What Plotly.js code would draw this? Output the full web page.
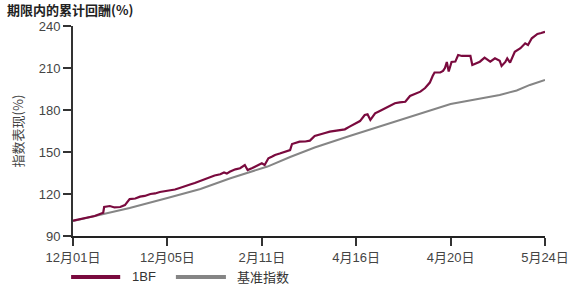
<!DOCTYPE html>
<html>
<head>
<meta charset="utf-8">
<script src="https://cdn.plot.ly/plotly-3.0.1.min.js"></script>
<style>html,body{margin:0;padding:0;background:#fff}#chart{width:584px;height:288px}</style>
</head>
<body>
<div id="chart"></div>
<script>
// x positions are trading-day indices
const tickVals = [0, 100, 200, 300, 400, 500];
const tickLabels = ["12月01日", "12月05日", "2月11日", "4月16日", "4月20日", "5月24日"];

const fundName = "1BF";
const fundX = [0,7,16,23,32,33,39,44,50,55,60,66,71,76,82,87,92,97,103,108,113,119,124,129,135,140,145,150,156,160,163,166,172,177,182,185,190,193,198,200,203,207,211,214,219,225,230,232,236,240,246,251,256,262,267,272,278,283,288,293,299,304,309,312,315,320,325,331,336,341,346,352,357,362,368,373,378,381,383,389,392,394,396,398,401,405,408,412,415,421,423,427,431,436,442,447,452,454,458,460,463,468,474,479,482,486,492,496,500];
const fundY = [100.9,102.1,103.2,104.3,106.6,110.7,111.4,110.4,110.7,112.1,116.4,116.8,118.1,118.6,120.0,120.4,121.4,121.8,122.4,123.2,124.3,125.4,126.8,127.9,129.5,131.1,132.4,133.2,134.1,135.4,134.6,135.9,137.6,138.4,140.7,137.1,138.6,139.5,141.1,141.9,140.7,145.5,146.8,147.9,148.9,150.2,151.4,155.7,156.4,157.4,157.5,158.1,161.4,162.9,163.6,164.5,165.0,165.7,166.2,168.1,170.0,172.1,176.4,176.9,172.9,177.6,179.3,181.2,182.9,184.8,185.4,185.9,190.0,191.4,193.1,195.7,199.6,204.3,206.8,206.8,207.9,210.0,214.3,207.5,214.3,214.6,219.3,218.6,218.6,218.6,212.1,213.6,214.5,217.4,214.5,216.9,215.2,211.4,214.3,216.9,213.8,221.6,224.1,227.6,226.4,231.2,234.3,235.0,235.9];

const benchName = "基准指数";
const benchX = [0,29,60,100,135,166,206,230,256,293,346,400,426,452,470,484,500];
const benchY = [100.7,105.4,110.0,117.1,123.6,131.1,139.6,146.4,153.2,161.4,172.9,184.3,187.5,190.7,193.9,197.9,201.4];

const fundColor = "#7a0a3e";
const benchColor = "#858585";
const fontFam = "Liberation Sans, Arial, Noto Sans CJK SC, sans-serif";

const traces = [
  {x: benchX, y: benchY, type: "scatter", mode: "lines", name: benchName,
   line: {color: benchColor, width: 2}, hoverinfo: "skip"},
  {x: fundX, y: fundY, type: "scatter", mode: "lines", name: fundName,
   line: {color: fundColor, width: 2.2}, hoverinfo: "skip"}
];

const layout = {
  width: 584, height: 288,
  margin: {l: 73, r: 39, t: 26, b: 52},
  paper_bgcolor: "#fff", plot_bgcolor: "#fff",
  showlegend: false,
  font: {family: fontFam, size: 13, color: "#444"},
  title: {text: "<b>期限内的累计回酬(%)</b>", x: 0.012, xanchor: "left", xref: "container",
          y: 0.962, yanchor: "middle", yref: "container",
          font: {family: "Noto Sans CJK SC, sans-serif", size: 13, color: "#222"}},
  xaxis: {range: [0, 500], tickvals: tickVals, ticktext: tickLabels,
          showgrid: false, zeroline: false, showline: true, linecolor: "#222", linewidth: 2,
          ticks: "outside", ticklen: 8, tickwidth: 2, tickcolor: "#333",
          tickfont: {size: 13, color: "#444"}, fixedrange: true},
  yaxis: {range: [90, 240], tickvals: [90, 120, 150, 180, 210, 240],
          showgrid: false, zeroline: false, showline: true, linecolor: "#333", linewidth: 2,
          ticks: "outside", ticklen: 8, tickwidth: 2, tickcolor: "#333",
          tickfont: {size: 13, color: "#444"},
          title: {text: "指数表现(%)", standoff: 12, font: {family: "Noto Sans CJK SC, sans-serif", size: 13, color: "#444"}},
          fixedrange: true},
  shapes: [
    {type: "line", xref: "paper", yref: "paper", x0: -0.004, x1: 0.100, y0: -0.195, y1: -0.195,
     line: {color: fundColor, width: 4}},
    {type: "line", xref: "paper", yref: "paper", x0: 0.218, x1: 0.324, y0: -0.195, y1: -0.195,
     line: {color: benchColor, width: 4}}
  ],
  annotations: [
    {text: fundName, xref: "paper", yref: "paper", x: 0.121, y: -0.195, xanchor: "left", yanchor: "middle",
     showarrow: false, font: {size: 13, color: "#333"}},
    {text: benchName, xref: "paper", yref: "paper", x: 0.343, y: -0.195, xanchor: "left", yanchor: "middle",
     showarrow: false, font: {family: "Noto Sans CJK SC, sans-serif", size: 13, color: "#333"}}
  ]
};

Plotly.newPlot("chart", traces, layout, {displayModeBar: false, staticPlot: true});
</script>
</body>
</html>
